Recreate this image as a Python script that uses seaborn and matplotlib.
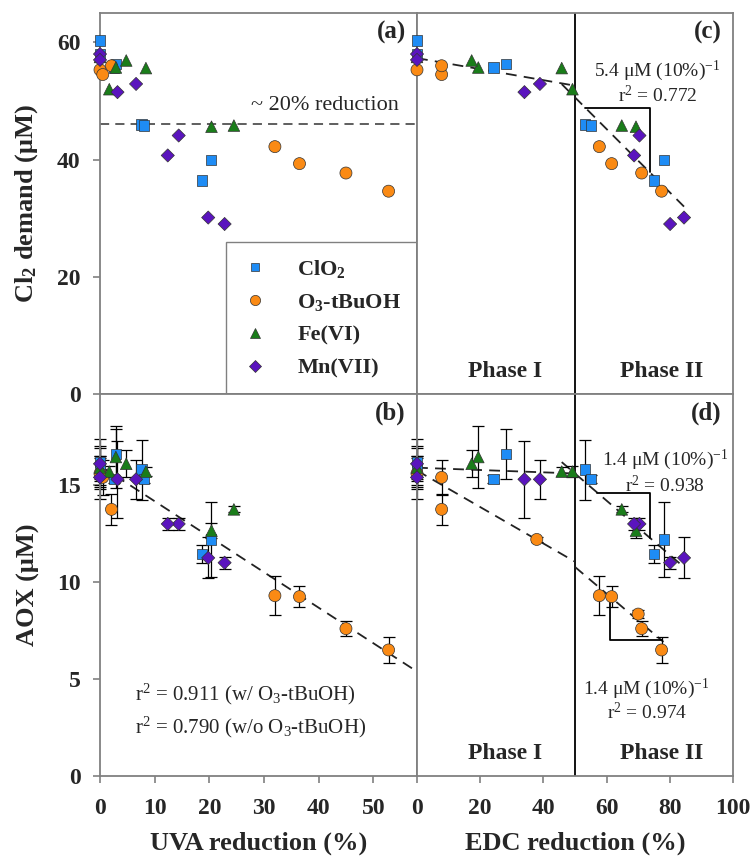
import numpy as np
import pandas as pd
import matplotlib
matplotlib.use("Agg")
import matplotlib.pyplot as plt
import seaborn as sns

# =========================================
# DATA
# =========================================
oxidants = ["ClO$_2$", "O$_3$-tBuOH", "Fe(VI)", "Mn(VII)"]
nan = np.nan

# ClO2
clo2_uva = [0, 0, 2.5, 2.9, 7.6, 8.0, 20.3, 18.6]
clo2_edc = [0, 0, 24.2, 28.1, 53.2, 55.1, 78.2, 75.1]
clo2_cl2 = [60.3, 58.0, 55.7, 56.3, 46.0, 45.8, 39.9, 36.4]
clo2_aox = [16.2, 15.9, 15.3, 16.6, 15.8, 15.3, 12.2, 11.45]
clo2_err = [1.2, 0.6, 0.2, 1.3, 1.55, 0.2, 1.95, 0.45]

# O3-tBuOH (last two only in panel d)
o3_uva = [0, 0.5, 2.1, 32.0, 36.5, 45.0, 52.8, nan, nan]
o3_edc = [0, 7.8, 7.8, 57.7, 61.6, 71.1, 77.4, 37.9, 70.0]
o3_cl2 = [55.3, 54.5, 56.0, 42.2, 39.3, 37.7, 34.6, nan, nan]
o3_aox = [15.6, 15.4, 13.75, 9.3, 9.25, 7.6, 6.5, 12.2, 8.35]
o3_err = [0.8, 0.9, 0.8, 1.0, 0.55, 0.4, 0.67, 0.15, 0.2]

# Fe(VI)
fe_uva = [0, 1.7, 2.9, 4.8, 8.4, 20.4, 24.5]
fe_edc = [0, 49.2, 19.4, 17.3, 45.8, 69.3, 64.8]
fe_cl2 = [57.5, 52.0, 55.7, 56.9, 55.6, 45.6, 45.8]
fe_aox = [15.9, 15.7, 16.45, 16.1, 15.7, 12.65, 13.75]
fe_err = [1.0, 0.3, 1.6, 0.7, 0.25, 0.4, 0.15]

# Mn(VII)
mn_uva = [0, 0, 3.2, 6.6, 14.4, 12.4, 19.8, 22.8]
mn_edc = [0, 0, 34.0, 38.9, 70.4, 68.7, 84.5, 80.1]
mn_cl2 = [58.0, 57.0, 51.5, 52.9, 44.1, 40.7, 30.1, 29.0]
mn_aox = [16.1, 15.4, 15.3, 15.3, 13.0, 13.0, 11.25, 11.0]
mn_err = [0.9, 1.1, 2.0, 1.0, 0.3, 0.3, 1.05, 0.3]

# regression lines: (intercept, slope, x start, x end)
fit_b = (16.0, -0.183, 0, 58)
fit_c1 = (57.3, -0.094, 0, 50)
fit_c2 = (77.6, -0.54, 45.8, 84.5)
fit_d1_top = (15.9, -0.006, 0, 49.5)
fit_d1_o3 = (15.75, -0.094, 0, 50)
fit_d2_top = (22.6, -0.14, 45.8, 84.5)
fit_d2_o3 = (17.68, -0.138, 50, 78)

# slope triangles (x start, x end)
tri_c = (53.2, 73.7)
tri_d_top = (57.0, 73.7)
tri_d_o3 = (61.1, 77.4)

reduction_level = 46.0  # ~20% reduction line in (a)

# =========================================
# STYLE
# =========================================
sns.set_theme(style="ticks")
plt.rcParams["font.family"] = ["Liberation Serif", "DejaVu Serif"]
plt.rcParams["font.weight"] = "bold"
plt.rcParams["axes.labelweight"] = "bold"
plt.rcParams["mathtext.fontset"] = "custom"
plt.rcParams["mathtext.rm"] = "Liberation Serif"
plt.rcParams["mathtext.bf"] = "Liberation Serif:bold"
plt.rcParams["mathtext.it"] = "Liberation Serif:italic"
plt.rcParams["mathtext.default"] = "regular"

palette = dict(zip(oxidants, ["#1E8CF5", "#FA8A14", "#1A7D1A", "#5A14BE"]))
markers = dict(zip(oxidants, ["s", "o", "^", "D"]))
sizes = dict(zip(oxidants, [55, 75, 70, 45]))

frames = []
for name, uva, edc, cl2, aox, err in [
    (oxidants[0], clo2_uva, clo2_edc, clo2_cl2, clo2_aox, clo2_err),
    (oxidants[1], o3_uva, o3_edc, o3_cl2, o3_aox, o3_err),
    (oxidants[2], fe_uva, fe_edc, fe_cl2, fe_aox, fe_err),
    (oxidants[3], mn_uva, mn_edc, mn_cl2, mn_aox, mn_err),
]:
    frames.append(pd.DataFrame({"oxidant": name, "uva": uva, "edc": edc,
                                "cl2": cl2, "aox": aox, "err": err}))
df = pd.concat(frames, ignore_index=True)

# =========================================
# FIGURE
# =========================================
fig = plt.figure(figsize=(7.53, 8.59), dpi=100)
L, M, R = 100 / 753, 417 / 753, 733 / 753
B, MID, T = 1 - 776 / 859, 1 - 394 / 859, 1 - 13 / 859
ax_a = fig.add_axes([L, MID, M - L, T - MID])
ax_b = fig.add_axes([L, B, M - L, MID - B])
ax_c = fig.add_axes([M, MID, R - M, T - MID])
ax_d = fig.add_axes([M, B, R - M, MID - B])

grey = "#808080"
dash = (0, (6, 4))


def fit_line(ax, fit):
    a, b, x0, x1 = fit
    xs = np.array([x0, x1])
    ax.plot(xs, a + b * xs, ls=dash, color="#222222", lw=1.3, zorder=2)


def triangle(ax, fit, tri, upper=True):
    a, b = fit[0], fit[1]
    x0, x1 = tri
    y0, y1 = a + b * x0, a + b * x1
    if upper:
        ax.plot([x0, x1, x1], [y0, y0, y1], color="black", lw=1.3, zorder=2)
    else:
        ax.plot([x0, x0, x1], [y0, y1, y1], color="black", lw=1.3, zorder=2)


for ax, xcol, ycol in [(ax_a, "uva", "cl2"), (ax_b, "uva", "aox"),
                       (ax_c, "edc", "cl2"), (ax_d, "edc", "aox")]:
    if ycol == "aox":
        ax.errorbar(df[xcol], df["aox"], yerr=df["err"], fmt="none",
                    ecolor="black", elinewidth=0.9, capsize=4, capthick=0.9,
                    zorder=2.5, clip_on=False)
    sns.scatterplot(data=df, x=xcol, y=ycol, hue="oxidant", style="oxidant",
                    size="oxidant", hue_order=oxidants, style_order=oxidants,
                    size_order=oxidants, palette=palette, markers=markers,
                    sizes=sizes, edgecolor="#333333", linewidth=0.5,
                    ax=ax, legend=(ax is ax_a), clip_on=False, zorder=3)
    ax.set_xlabel("")
    ax.set_ylabel("")
    for sp in ax.spines.values():
        sp.set_visible(True)
        sp.set_color(grey)
        sp.set_linewidth(1.3)
    ax.tick_params(direction="out", length=5, width=1.2, color=grey,
                   labelsize=17, pad=9)

# limits and ticks
for ax in (ax_a, ax_b):
    ax.set_xlim(0, 58)
    ax.set_xticks([0, 10, 20, 30, 40, 50])
for ax in (ax_c, ax_d):
    ax.set_xlim(0, 100)
    ax.set_xticks([0, 20, 40, 60, 80, 100])
    ax.tick_params(axis="y", left=False, labelleft=False)
    ax.axvline(50, color="black", lw=1.3, zorder=2)
for ax in (ax_a, ax_c):
    ax.set_ylim(0, 65)
    ax.set_yticks([0, 20, 40, 60])
    ax.tick_params(axis="x", bottom=False, labelbottom=False)
for ax in (ax_b, ax_d):
    ax.set_ylim(0, 19.7)
    ax.set_yticks([0, 5, 10, 15])
    ax.tick_params(axis="x", pad=11)

# fits
fit_line(ax_b, fit_b)
fit_line(ax_c, fit_c1)
fit_line(ax_c, fit_c2)
fit_line(ax_d, fit_d1_top)
fit_line(ax_d, fit_d1_o3)
fit_line(ax_d, fit_d2_top)
fit_line(ax_d, fit_d2_o3)
triangle(ax_c, fit_c2, tri_c, upper=True)
triangle(ax_d, fit_d2_top, tri_d_top, upper=True)
triangle(ax_d, fit_d2_o3, tri_d_o3, upper=False)

ax_a.axhline(reduction_level, ls=dash, color="#333333", lw=1.1, zorder=1)
ax_a.text(41.2, 49.2, "~ 20% reduction", ha="center", va="center",
          fontsize=16, fontweight="normal")

# annotations
note = dict(ha="center", va="center", fontsize=14, fontweight="normal")
ax_c.text(76, 55.2, "5.4 μM (10%)$^{-1}$", **note)
ax_c.text(76, 50.9, "r$^2$ = 0.772", **note)
ax_d.text(78.5, 16.3, "1.4 μM (10%)$^{-1}$", **note)
ax_d.text(78.5, 15.0, "r$^2$ = 0.938", **note)
ax_d.text(72.7, 4.5, "1.4 μM (10%)$^{-1}$", **note)
ax_d.text(72.7, 3.3, "r$^2$ = 0.974", **note)
ax_b.text(6.4, 4.2, "r$^2$ = 0.911 (w/ O$_3$-tBuOH)", ha="left", va="center",
          fontsize=15, fontweight="normal")
ax_b.text(6.4, 2.5, "r$^2$ = 0.790 (w/o O$_3$-tBuOH)", ha="left", va="center",
          fontsize=15, fontweight="normal")

for ax in (ax_c, ax_d):
    ax.text(27.8, 0.06, "Phase I", transform=ax.get_xaxis_transform(),
            ha="center", va="center", fontsize=17)
    ax.text(77.5, 0.06, "Phase II", transform=ax.get_xaxis_transform(),
            ha="center", va="center", fontsize=17)

for ax, lab in [(ax_a, "(a)"), (ax_b, "(b)"), (ax_c, "(c)"), (ax_d, "(d)")]:
    ax.text(0.965, 0.95, lab, transform=ax.transAxes, ha="right",
            va="center", fontsize=18)

# axis labels
ax_a.set_ylabel("Cl$_2$ demand (μM)", fontsize=19, fontweight="bold")
ax_b.set_ylabel("AOX (μM)", fontsize=19, fontweight="bold")
ax_a.yaxis.set_label_coords(-0.19, 0.5)
ax_b.yaxis.set_label_coords(-0.19, 0.5)
ax_b.set_xlabel("UVA reduction (%)", fontsize=19, fontweight="bold",
                labelpad=9)
ax_d.set_xlabel("EDC reduction (%)", fontsize=19, fontweight="bold",
                labelpad=9)

# legend
sns.move_legend(ax_a, "lower right", bbox_to_anchor=(1, 0), borderaxespad=0,
                frameon=True, fancybox=False, title=None, framealpha=1,
                prop={"weight": "bold", "size": 16}, markerscale=0.85,
                handlelength=1.2, handletextpad=1.3, labelspacing=0.55,
                borderpad=0.7)
leg = ax_a.get_legend()
leg.get_frame().set_edgecolor(grey)
leg.get_frame().set_linewidth(1.0)
leg.set_zorder(1)

fig.savefig("out.png", dpi=100)
